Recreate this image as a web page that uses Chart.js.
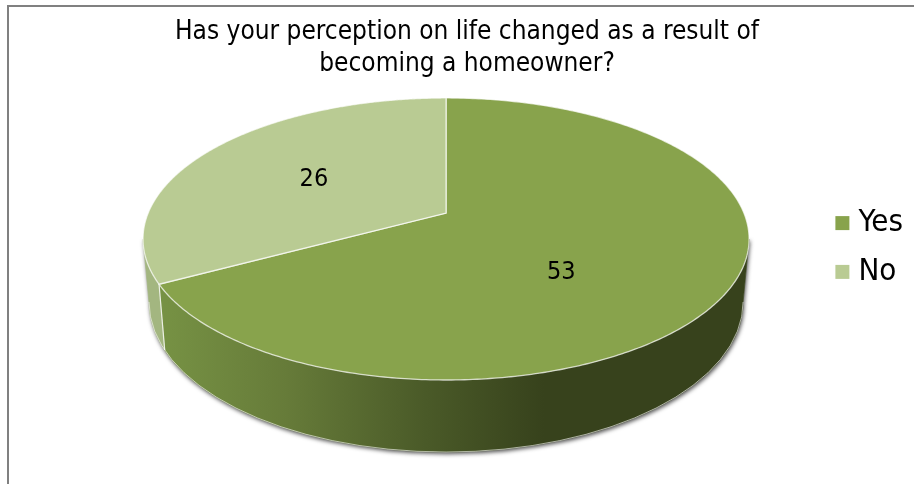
<!DOCTYPE html>
<html>
<head>
<meta charset="utf-8">
<script src="https://cdn.jsdelivr.net/npm/chart.js@4"></script>
<style>
html,body{margin:0;padding:0;background:#fff;overflow:hidden;width:914px;height:484px}
#frame{position:absolute;left:7px;top:5px;width:930px;height:500px;border-left:2px solid #808080;border-top:2px solid #808080}
#c{position:absolute;left:8px;top:5px}
</style>
</head>
<body>
<div id="frame"></div>
<canvas id="c" width="918" height="479"></canvas>
<script>
const titleLines = ['Has your perception on life changed as a result of', 'becoming a homeowner?'];
const categories = ['Yes', 'No'];
const values = [53, 26];
const topColors = ['#88a34c', '#b9cb93'];
const FONT = '"DejaVu Sans Condensed", "DejaVu Sans", sans-serif';

// Projection of the flat pie into the tilted view
const STRETCH = 303 / 141, TILT = -0.184;
const BASE = {dy: 63 / 141, rx: 297 / 303, ry: 150 / 141};
const LABEL_AT = [[0.38, 0.24], [-0.436, -0.42]];

function project(angle) {
  const t = angle + Math.PI / 2, x = Math.sin(t), y = -Math.cos(t);
  const d = 1 + TILT * y;
  return {
    x: x * Math.sqrt(1 - TILT * TILT) / d,
    y: (y + TILT) / d
  };
}
function geom(arc) {
  const R = arc.outerRadius, rx = R * STRETCH;
  return {
    top: {cx: arc.x, cy: arc.y, rx, ry: R},
    base: {cx: arc.x, cy: arc.y + R * BASE.dy, rx: rx * BASE.rx, ry: R * BASE.ry}
  };
}
function at(e, p) { return {x: e.cx + e.rx * p.x, y: e.cy + e.ry * p.y}; }

const pie3d = {
  id: 'pie3d',
  afterLayout(chart) {
    const l = chart.legend;
    l.top += 55; l.bottom += 55;
    chart.titleBlock.left = 0;
    chart.titleBlock.right = chart.width;
  },
  beforeDatasetDraw(chart) {
    const ctx = chart.ctx, arcs = chart.getDatasetMeta(0).data;
    const {top, base} = geom(arcs[0]);
    // outer silhouette with a soft shadow
    ctx.save();
    ctx.shadowColor = 'rgba(0,0,0,0.7)';
    ctx.shadowBlur = 4;
    ctx.shadowOffsetY = 2;
    ctx.shadowOffsetX = 1;
    ctx.fillStyle = '#c9cdbf';
    ctx.beginPath();
    ctx.moveTo(top.cx - top.rx, top.cy);
    ctx.lineTo(base.cx - base.rx, base.cy);
    ctx.ellipse(base.cx, base.cy, base.rx, base.ry, 0, Math.PI, 0, true);
    ctx.lineTo(top.cx + top.rx, top.cy);
    ctx.closePath();
    ctx.fill();
    ctx.restore();

    // side walls
    const grad = ctx.createLinearGradient(base.cx - base.rx, 0, base.cx + 0.33 * base.rx, 0);
    grad.addColorStop(0, '#789445');
    grad.addColorStop(0.35, '#667b39');
    grad.addColorStop(0.7, '#4a5a28');
    grad.addColorStop(1, '#37421c');
    const wallFills = [grad, '#a3b680'];
    arcs.forEach((arc, i) => {
      const n = 240, up = [], down = [];
      for (let k = 0; k <= n; k++) {
        const a = arc.startAngle + (arc.endAngle - arc.startAngle) * k / n;
        const p = project(a);
        if (p.y >= 0) { up.push(at(top, p)); down.push(at(base, p)); }
      }
      if (!up.length) return;
      ctx.beginPath();
      up.forEach((q, k) => k ? ctx.lineTo(q.x, q.y) : ctx.moveTo(q.x, q.y));
      down.reverse().forEach(q => ctx.lineTo(q.x, q.y));
      ctx.closePath();
      ctx.fillStyle = wallFills[i];
      ctx.fill();
      ctx.strokeStyle = wallFills[i];
      ctx.lineWidth = 0.6;
      ctx.stroke();
    });
    // light seam between the walls and along the bottom rim
    const seam = arcs[0].endAngle, ps = project(seam);
    const s1 = at(top, ps), s2 = at(base, ps);
    ctx.strokeStyle = 'rgba(255,255,255,0.8)';
    ctx.lineWidth = 1.2;
    ctx.beginPath(); ctx.moveTo(s1.x, s1.y); ctx.lineTo(s2.x, s2.y); ctx.stroke();
    ctx.strokeStyle = 'rgba(255,255,255,0.55)';
    ctx.lineWidth = 1;
    ctx.beginPath();
    ctx.ellipse(base.cx, base.cy, base.rx, base.ry, 0, Math.PI, 0, true);
    ctx.stroke();

    // top faces
    const v = at(top, {x: 0, y: TILT});
    arcs.forEach(arc => {
      ctx.beginPath();
      ctx.moveTo(v.x, v.y);
      const n = 360;
      for (let k = 0; k <= n; k++) {
        const q = at(top, project(arc.startAngle + (arc.endAngle - arc.startAngle) * k / n));
        ctx.lineTo(q.x, q.y);
      }
      ctx.closePath();
      ctx.fillStyle = arc.options.backgroundColor;
      ctx.fill();
      ctx.strokeStyle = 'rgba(255,255,255,0.7)';
      ctx.lineWidth = 1.3;
      ctx.stroke();
    });
    // value labels
    ctx.fillStyle = '#000';
    ctx.font = '25px ' + FONT;
    ctx.textAlign = 'center';
    ctx.textBaseline = 'middle';
    arcs.forEach((arc, i) => {
      ctx.fillText(String(values[i]), top.cx + top.rx * LABEL_AT[i][0], top.cy + top.ry * LABEL_AT[i][1]);
    });
    return false;
  }
};

new Chart(document.getElementById('c'), {
  type: 'pie',
  data: {
    labels: categories,
    datasets: [{data: values, backgroundColor: topColors, borderWidth: 0}]
  },
  options: {
    responsive: false,
    animation: false,
    layout: {padding: {left: 60, right: 13, bottom: 104, top: 0}},
    plugins: {
      tooltip: {enabled: false},
      title: {
        display: true,
        text: titleLines,
        color: '#000',
        font: {family: FONT, size: 26, weight: 'normal', lineHeight: 1.23},
        padding: {top: 11, bottom: 18}
      },
      legend: {
        position: 'right',
        labels: {
          color: '#000',
          font: {family: FONT, size: 31},
          boxWidth: 1,
          boxHeight: 1,
          padding: 17.8,
          generateLabels: chart => categories.map((t, i) => ({
            text: t,
            fillStyle: topColors[i],
            strokeStyle: topColors[i],
            lineWidth: 13,
            index: i
          }))
        }
      }
    }
  },
  plugins: [pie3d]
});
</script>
</body>
</html>
